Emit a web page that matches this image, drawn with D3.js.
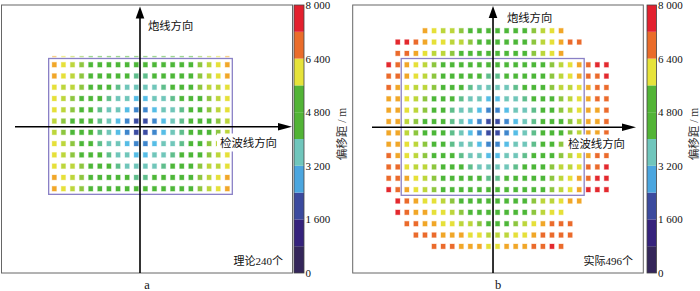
<!DOCTYPE html>
<html><head><meta charset="utf-8">
<script src="https://cdn.jsdelivr.net/npm/d3@7"></script>
<style>body{margin:0;background:#fff}svg{display:block}</style>
</head><body>
<svg id="chart" width="700" height="291"></svg>
<script>
// ---- data ----
const levelCodes  = ["D","B","C","T","S","G","l","L","Y","A","O","R"];
const levelValues = [1800,2400,2900,3500,4000,4600,5300,5700,6100,6500,6900,7500];
const levelColors = ["#3b4ba2","#3e86cc","#56bde6","#70c6ba","#5fbe8c","#4db738","#8dc63f","#bdd63b","#e6e039","#f1a728","#eb6b2c","#e3292e"];

// theoretical layout (panel a), rows top->bottom, columns left->right
const gridA = [
  "AYLlGGGGGGGGGGGGlLYA",
  "AYLlGGGGGSSGGGGGlLYA",
  "YLLlGGGSTTTTSGGGlLLY",
  "YLlGGGSTTCCTTSGGGlLY",
  "YLlGGSTTCBBCTTSGGlLY",
  "LlGGGSTCBDDBCTSGGGlL",
  "LlGGGSTCBDDBCTSGGGlL",
  "YLlGGSTTCBBCTTSGGlLY",
  "YLlGGGSTTCCTTSGGGlLY",
  "YLLlGGGSTTTTSGGGlLLY",
  "AYLlGGGGGSSGGGGGlLYA",
  "AYLlGGGGGGGGGGGGlLYA"
];
const gridAFaintRow = "AYLlGGGGGGGGGGGGlLYA";

// actual layout (panel b), "." = no bin
const gridB = [
  "....AYLLlGGGGGGGlLYA.....",
  ".RROAYYLLlGGGGGGlLYAOO...",
  ".OOAYLLlGGGGGGGGlLYA.....",
  "ROAYLlGGGGGGGGGGGGlLYAORR",
  "OOAYLlGGGGGSSGGGGGlLYAOOR",
  "OAYLLlGGGSTTTTSGGGlLLYAOO",
  "AAYLlGGGSTTCCTTSGGGlLYAOO",
  "AAYLlGGSTTCBBCTTSGGlLYAAO",
  "AALlGGGSTCBDDBCTSGGGlLAAO",
  "AALlGGGSTCBDDBCTSGGGlLAAO",
  "AAYLlGGSTTCBBCTTSGGlLYAAO",
  "OAYLlGGGSTTCCTTSGGGlLYAOO",
  "OOYLLlGGGSTTTTSGGGlLLYOOR",
  "OOAYLlGGGGGSSGGGGGlLYAORR",
  "ROAYLlGGGGGGGGGGGGlLYARRR",
  ".ROAYYLlGGGGGGGGlLLYAA...",
  ".ROAAYYLlGGGGGGGlLYY.....",
  "..OOAAYYLLlGGGlLYAOOO....",
  "...OOOAAAYYLLLYYAOOOO....",
  ".....OOOAAAYYAAAOORO....."
];

const colorbarBreaks = [0,800,1600,2400,3200,4000,4800,5600,6400,7200,8000];
const colorbarColors = ["#34265a","#35227c","#3b4a9e","#4ba6df","#70c6bc","#52b436","#52b436","#e6e33a","#ea6c2a","#e3202e"];
const colorbarTicks = [0,1600,3200,4800,6400,8000];
const colorbarTickLabels = ["0","1 600","3 200","4 800","6 400","8 000"];
const panelLetters = ["a","b"];
const countLabels = ["理论240个","实际496个"];
const shotLineLabel = "炮线方向";
const receiverLineLabel = "检波线方向";
const colorbarTitle = "偏移距 / m";

// ---- layout ----
const panels = [
  { grid: gridA, faint: gridAFaintRow, ncol: 20, nrow: 12,
    xr: [54.3, 227.3], yr: [64.7, 188.7], rectCol: [0, 19], rectRow: [0, 11],
    frame: [1.5, 5, 292.5, 273], hx0: 15, hTip: 292, vTip: 6.5,
    cbX: 294, cbW: 10, cbTitleX: 342,
    shot: [148, 26], recv: [220, 143], count: [283, 261] },
  { grid: gridB, faint: null, ncol: 25, nrow: 20,
    xr: [388.7, 606.4], yr: [30.7, 246.4], rectCol: [2, 21], rectRow: [3, 14],
    frame: [352.7, 5, 643.3, 273], hx0: 372, hTip: 636, vTip: 6,
    cbX: 647, cbW: 9.5, cbTitleX: 693.5,
    shot: [507, 18], recv: [568, 144], count: [633, 261] }
];

const svg = d3.select("#chart");
const codeValue = new Map(levelCodes.map((c, i) => [c, levelValues[i]]));
const color = d3.scaleLinear().domain(levelValues).range(levelColors);
const cjk = "'Liberation Serif','Noto Sans CJK SC',serif";

panels.forEach((p, pi) => {
  const g = svg.append("g");
  const x = d3.scaleLinear().domain([0, p.ncol - 1]).range(p.xr);
  const y = d3.scaleLinear().domain([0, p.nrow - 1]).range(p.yr);
  const cw = 4.3, ch = 4.8;

  // frame
  g.append("rect").attr("x", p.frame[0]).attr("y", p.frame[1])
    .attr("width", p.frame[2] - p.frame[0]).attr("height", p.frame[3] - p.frame[1])
    .attr("fill", "#fff").attr("stroke", "#666").attr("stroke-width", 1);

  // cells
  const cells = [];
  p.grid.forEach((row, j) => [...row].forEach((c, i) => {
    if (c !== ".") cells.push({ i, j, v: codeValue.get(c) });
  }));
  g.append("g").selectAll("rect").data(cells).join("rect")
    .attr("x", d => x(d.i) - cw / 2).attr("y", d => y(d.j) - ch / 2)
    .attr("width", cw).attr("height", ch)
    .attr("fill", d => color(d.v))
    .attr("stroke", d => color(d.v)).attr("stroke-opacity", 0.3).attr("stroke-width", 1);

  // faint partially hidden row (panel a)
  if (p.faint) {
    g.append("g").selectAll("rect").data([...p.faint].map((c, i) => ({ i, v: codeValue.get(c) })))
      .join("rect")
      .attr("x", d => x(d.i) - cw / 2).attr("y", y(-0.72) - 0.7)
      .attr("width", cw).attr("height", 1.4)
      .attr("fill", d => color(d.v)).attr("opacity", 0.55);
  }

  // theoretical patch outline
  const rx0 = x(p.rectCol[0] - 0.62), rx1 = x(p.rectCol[1] + 0.55);
  const ry0 = y(p.rectRow[0] - 0.55), ry1 = y(p.rectRow[1] + 0.5);
  g.append("rect").attr("x", rx0).attr("y", ry0).attr("width", rx1 - rx0).attr("height", ry1 - ry0)
    .attr("fill", "none").attr("stroke", "#8a80c6").attr("stroke-width", 1.3);

  // axes with arrows
  const cy = y(p.rectRow[0] + 5.5);
  const axX = pi === 0 ? 140 : x(11.5);
  g.append("line").attr("x1", axX).attr("x2", axX).attr("y1", p.frame[3]).attr("y2", p.vTip + 10)
    .attr("stroke", "#000").attr("stroke-width", 1.6);
  g.append("path").attr("d", `M${axX},${p.vTip} L${axX - 4.3},${p.vTip + 12} L${axX + 4.3},${p.vTip + 12} Z`).attr("fill", "#000");
  g.append("line").attr("x1", p.hx0).attr("x2", p.hTip - 12).attr("y1", cy).attr("y2", cy)
    .attr("stroke", "#000").attr("stroke-width", 1.6);
  g.append("path").attr("d", `M${p.hTip},${cy} L${p.hTip - 14},${cy - 3.8} L${p.hTip - 14},${cy + 3.8} Z`).attr("fill", "#000");

  // receiver-line label with white box
  const recv = g.append("text").attr("x", p.recv[0]).attr("y", p.recv[1])
    .attr("dominant-baseline", "central").attr("font-family", cjk).attr("font-size", 11.4)
    .attr("fill", "#111").text(receiverLineLabel);
  const bb = recv.node().getBBox();
  g.insert("rect", () => recv.node()).attr("x", bb.x - 3).attr("y", p.recv[1] - 9.5)
    .attr("width", bb.width + 5).attr("height", 18).attr("fill", "#fff");

  g.append("text").attr("x", p.shot[0]).attr("y", p.shot[1])
    .attr("dominant-baseline", "central").attr("font-family", cjk).attr("font-size", 11.3)
    .attr("fill", "#111").text(shotLineLabel);

  g.append("text").attr("x", p.count[0]).attr("y", p.count[1]).attr("text-anchor", "end")
    .attr("dominant-baseline", "central").attr("font-family", cjk).attr("font-size", 11)
    .attr("fill", "#111").text(countLabels[pi]);

  g.append("text").attr("x", (p.frame[0] + p.frame[2]) / 2).attr("y", 284.5).attr("text-anchor", "middle")
    .attr("dominant-baseline", "central").attr("font-family", "'Liberation Serif',serif").attr("font-size", 12.5)
    .attr("fill", "#111").text(panelLetters[pi]);

  // colorbar
  const cb = d3.scaleLinear().domain([0, 8000]).range([273, 5]);
  const segs = colorbarColors.map((c, k) => ({ a: colorbarBreaks[k], b: colorbarBreaks[k + 1], c }));
  g.append("g").selectAll("rect").data(segs).join("rect")
    .attr("x", p.cbX).attr("width", p.cbW)
    .attr("y", d => cb(d.b)).attr("height", d => cb(d.a) - cb(d.b))
    .attr("fill", d => d.c);
  g.append("rect").attr("x", p.cbX).attr("y", cb(8000)).attr("width", p.cbW).attr("height", cb(0) - cb(8000))
    .attr("fill", "none").attr("stroke", "#444").attr("stroke-width", 0.8);
  const ax = g.append("g").attr("transform", `translate(${p.cbX + p.cbW},0)`)
    .call(d3.axisRight(cb).tickValues(colorbarTicks)
      .tickFormat((d, k) => colorbarTickLabels[k]).tickSize(0).tickPadding(1.5));
  ax.select(".domain").remove();
  ax.selectAll("text").attr("font-family", "'Liberation Serif',serif").attr("font-size", 11).attr("fill", "#111");

  g.append("text").attr("transform", `translate(${p.cbTitleX},134) rotate(-90)`)
    .attr("text-anchor", "middle").attr("dominant-baseline", "central")
    .attr("font-family", cjk).attr("font-size", 11.5).attr("fill", "#333").text(colorbarTitle);
});
</script>
</body></html>
